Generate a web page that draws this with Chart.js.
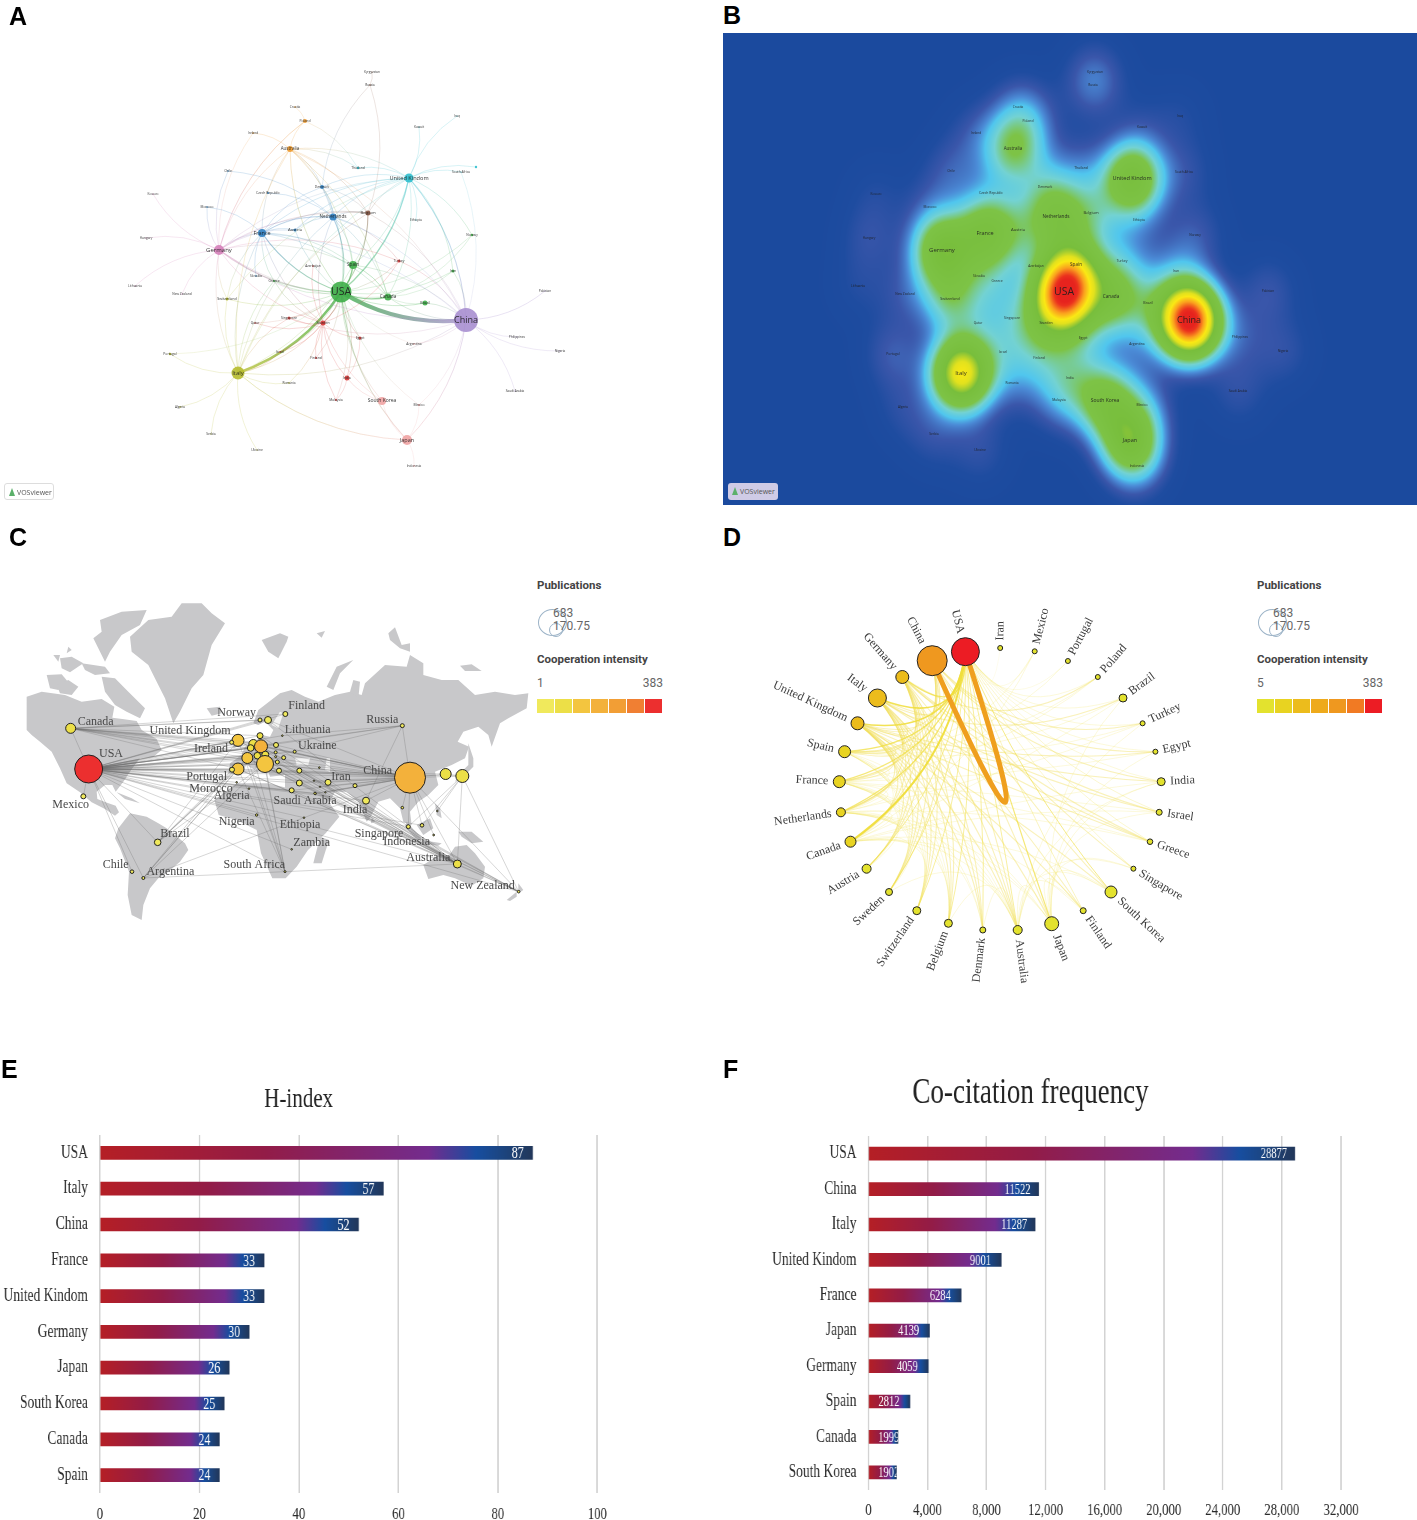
<!DOCTYPE html>
<html>
<head>
<meta charset="utf-8">
<title>Country analysis</title>
<script src="https://cdn.jsdelivr.net/npm/chart.js@4"></script>
<style>
    html, body { margin: 0; background: #fff; }
    #page { position: relative; width: 1417px; height: 1520px; overflow: hidden; }
    #page canvas { position: absolute; }
    .letter { position: absolute; font: bold 25px "Liberation Sans", sans-serif; color: #000; line-height: 25px; }
    .logo { position: absolute; width: 50px; height: 17px; border-radius: 3px; font: 7px "Open Sans", sans-serif; color: #555; line-height: 17px; padding-left: 2px; box-sizing: border-box; }
    .logo i { display: inline-block; width: 0; height: 0; border-left: 3px solid transparent; border-right: 3px solid transparent; border-bottom: 8px solid #5bb06a; margin: 0 2px 0 2px; vertical-align: -1px; }
    .legend { position: absolute; width: 140px; height: 145px; font-family: Roboto, sans-serif; color: #555; }
    .legend b { position: absolute; left: 0; font-size: 11.5px; font-weight: 700; color: #444; white-space: nowrap; }
    .legend span { position: absolute; font-size: 12px; line-height: 14px; color: #666; white-space: nowrap; }
    .legend u { position: absolute; border: 1.5px solid #9db4c8; border-radius: 50%; box-sizing: border-box; }
    .legend em { position: absolute; top: 129px; height: 14px; width: 17px; }
</style>
</head>
<body>
<div id="page">
    <canvas id="panel-a" width="710" height="480" style="left:0;top:30px;filter:blur(.35px)"></canvas>
    <canvas id="panel-b" width="694" height="472" style="left:723px;top:33px;filter:blur(.3px)"></canvas>
    <canvas id="panel-c" width="535" height="520" style="left:0;top:520px;filter:blur(.3px)"></canvas>
    <canvas id="panel-d" width="490" height="400" style="left:740px;top:590px;filter:blur(.2px)"></canvas>
    <canvas id="panel-e" width="933" height="460" style="left:0;top:1060px;transform-origin:0 0;transform:scaleX(.75);filter:blur(.3px)"></canvas>
    <canvas id="panel-f" width="930" height="460" style="left:720px;top:1060px;transform-origin:0 0;transform:scaleX(.75);filter:blur(.3px)"></canvas>
    <div class="letter" style="left:9px;top:4px">A</div>
    <div class="letter" style="left:723px;top:3px">B</div>
    <div class="letter" style="left:9px;top:525px">C</div>
    <div class="letter" style="left:723px;top:525px">D</div>
    <div class="letter" style="left:1px;top:1057px">E</div>
    <div class="letter" style="left:723px;top:1057px">F</div>
    <div class="logo" style="left:4px;top:483px;background:#fff;border:1px solid #ddd"><i></i>VOSviewer</div>
    <div class="logo" style="left:728px;top:483px;background:#cfcbe6"><i></i>VOSviewer</div>
    <div class="legend" id="legend-c" style="left:537px;top:570px"></div>
    <div class="legend" id="legend-d" style="left:1257px;top:570px"></div>
</div>
<script>
// panels A and B: VOSviewer network, same layout in both
const netCountries = ['USA','China','Italy','Germany','France','Netherlands','United Kindom','Spain','Canada','Brazil','Japan','South Korea','Australia','Belgium','Sweden','Singapore','India','Turkey','Egypt','Denmark','Austria','Czech Republic','Poland','Croatia','Ireland','Chile','Kosovo','Morocco','Hungary','Lithuania','New Zealand','Switzerland','Slovakia','Greece','Azerbaijan','Portugal','Qatar','Israel','Finland','Romania','Algeria','Serbia','Ukraine','Malaysia','Mexico','Indonesia','Argentina','Saudi Arabia','Nigeria','Philippines','Pakistan','Iran','Norway','Ethiopia','South Africa','Thailand','Kuwait','Iraq','Russia','Kyrgyzstan',''];
const netX = [341,466,238,219,262,333,409,353,388,425,407,382,290,368,323,289,347,399,360,322,295,268,305,295,253,228,153,207,146,135,182,227,256,274,313,170,255,280,316,289,180,211,257,336,419,414,414,515,560,517,545,453,472,416,461,358,419,457,370,372,476];
const netY = [292,320,373,250,233,217,178,265,297,303,440,401,149,213,323,318,378,261,338,187,230,193,121,107,133,171,194,207,238,286,294,299,276,281,266,354,323,352,358,383,407,434,450,400,405,466,344,391,351,337,291,271,235,220,172,168,127,116,85,72,167];
const netRadius = [10.5,12,6.5,5,4,3.5,4.5,4,3.5,2.5,5,4,3,2.5,2.5,1.5,2.5,1.5,1.5,2,1.5,1,2,.8,.8,.8,.6,.8,.6,.6,.6,1.5,.8,1,.8,1.2,.8,.8,1,.8,.8,.6,.6,1,1,.8,.8,.6,.6,.6,.6,1.5,1.2,.6,.6,1.2,.6,.6,.8,.6,1.2];
const netFont = [10.5,9,6,6,5.5,4.7,5.6,4.7,4.7,3.6,5.5,5,4.5,4,3.6,3.4,3.4,3.4,3.4,3.4,4.3,3.4,3.4,3.2,3.2,3.2,3.2,3.2,3.2,3.2,3.2,3.6,3.2,3.4,3.2,3.4,3.2,3.2,3.4,3.2,3.2,3.2,3.2,3.4,3.4,3.2,3.4,3.2,3.2,3.2,3.2,3.4,3.2,3.2,3.2,3.4,3.2,3.2,3.2,3.2,3.2];
const netGroup = ['us','cn','it','de','fr','fr','uk','us','us','us','jp','jp','au','be','se','se','se','se','se','fr','fr','fr','au','au','au','fr','de','fr','de','de','de','it','fr','us','se','it','se','se','se','it','it','it','it','se','jp','jp','jp','cn','cn','cn','cn','us','us','uk','uk','uk','uk','uk','be','be','uk'];
const netDensity = [.85,1.02,.66,.42,.33,.26,.42,.25,.27,.12,.40,.32,.24,.14,.18,.08,.12,.08,.09,.1,.12,.05,.08,.05,.05,.06,.03,.04,.05,.03,.05,.2,.05,.07,.04,.07,.05,.07,.08,.05,.04,.05,.05,.07,.08,.06,.05,.05,.05,.05,.06,.07,.06,.04,.05,.06,.03,.03,.07,.04,0];
const groupColors = {us:'#3fae49', cn:'#a98fd0', it:'#b7bd2d', de:'#d57fb9', fr:'#2f7fc1', uk:'#2fbfce', au:'#ee9a2e', se:'#d93a3a', jp:'#efa3a3', be:'#8c5a46'};

const usaPartners = ['China','Italy','Spain','Canada','United Kindom','France','Germany','Netherlands','Belgium','Sweden','Japan','South Korea','Brazil','Australia','Switzerland','Greece','Turkey','Egypt','India','Iran','Israel','Singapore','Denmark','Austria','Finland','Mexico','Norway','Portugal','Argentina','Malaysia','Qatar'];
const usaWeights = [5,3,1.8,1.8,1.6,1.5,1.2,1.2,1.2,1.2,1.2,.8,.8,.8,.7,.6,.6,.7,.6,.6,.6,.6,.6,.6,.5,.5,.5,.4,.4,.4,.4];
const chinaPartners = ['United Kindom','Pakistan','Philippines','Nigeria','Saudi Arabia','Japan','Australia','Canada','Italy','Germany','Iran','Turkey','Brazil','Spain','Argentina','Netherlands','Mexico','Singapore','France','Belgium','South Africa'];
const chinaWeights = [1.3,.8,.6,.6,.6,1,.6,.7,.7,.7,.6,.6,.7,.6,.6,.5,.5,.5,.5,.5,.4];
const italyPartners = ['Spain','France','Germany','United Kindom','Netherlands','Belgium','Switzerland','Portugal','Algeria','Serbia','Ukraine','Israel','Romania','Greece','Japan','Sweden','Singapore'];
const ukPartners = ['Kuwait','Iraq','South Africa','','Ethiopia','Netherlands','Belgium','France','Germany','Spain','Denmark','Thailand','Norway','Iran','Austria','Canada','Switzerland'];
const francePartners = ['Netherlands','Austria','Germany','Belgium','Denmark','Spain','Canada','Greece','Slovakia','Morocco','Switzerland','Sweden'];
const germanyPartners = ['Hungary','Kosovo','Lithuania','New Zealand','Morocco','Netherlands','Austria','Switzerland','Spain','Poland','Chile','Sweden','Turkey','Belgium','Canada'];
const australiaPartners = ['Poland','Ireland','Denmark','Netherlands','Belgium','Thailand','Germany','Italy','Spain','France','United Kindom','Canada'];
const netherlandsPartners = ['Denmark','Belgium','Spain','Canada','Czech Republic','Austria','Sweden','Turkey','Chile'];
const swedenPartners = ['Singapore','India','Egypt','Malaysia','Finland','Qatar','Israel','Greece','Turkey','Romania','Azerbaijan','South Korea','Spain'];
const otherPairsFrom = ['Poland','India','India','India','Russia','Russia','Russia','Japan','Japan','Japan','Japan','Canada','Canada','Canada','Canada','Spain','Spain','Poland','Poland','Ireland','Denmark'];
const otherPairsTo = ['Croatia','Malaysia','South Korea','Egypt','Kyrgyzstan','Denmark','Belgium','Indonesia','South Korea','Mexico','Italy','Iran','Brazil','Norway','Spain','Belgium','Canada','Thailand','Germany','Germany','Belgium'];

// panel C: world map
const mapCountries = ['USA','Canada','Mexico','Brazil','Chile','Argentina','Norway','Sweden','Finland','Poland','United Kingdom','Ireland','Belgium','Netherlands','Germany','Denmark','France','Switzerland','Austria','Italy','Spain','Portugal','Czech Republic','Hungary','Slovakia','Romania','Serbia','Greece','Turkey','Israel','Iran','Ukraine','Lithuania','Bulgaria','Morocco','Algeria','Saudi Arabia','Iraq','Kuwait','Qatar','Egypt','China','South Korea','Japan','Russia','India','Pakistan','Thailand','Singapore','Indonesia','Philippines','Malaysia','Australia','New Zealand','Ethiopia','Zambia','South Africa','Nigeria'];
const mapU = [191,137,175,398,321,355,705,729,781,753,639,620,685,677,708,705,667,697,721,720,639,621,752,757,752,776,762,823,823,800,909,809,772,883,635,672,871,867,885,901,870,1155,1262,1312,1132,1023,990,1132,1150,1191,1237,1226,1297,1481,837,800,780,695];
const mapV = [522,400,604,742,830,849,375,375,357,450,436,442,447,459,454,422,489,482,479,507,522,524,472,501,485,488,527,527,564,586,562,470,422,518,562,581,596,557,575,592,595,548,537,543,392,617,572,638,695,691,648,720,807,890,668,763,830,660];
const mapRadius = [14,5,2.5,3.3,1.8,1.5,2,3.5,2.5,2.5,6,2,4.5,3.3,6.5,3,5.5,3.3,3.5,8.5,6,2.5,1.5,2,1,2,2.5,2.5,3,2.5,3,1.5,.8,.8,.8,.8,1,.7,.7,.7,1.2,15.5,5.5,6.5,2,3.5,2,1.3,2,1.8,.8,.9,4,1.3,.8,.8,1,1.2];
const mapIntensity = [383,60,20,40,10,10,15,40,20,50,130,15,90,90,190,60,130,90,70,140,130,30,15,20,10,20,20,30,30,30,20,10,5,5,5,5,10,5,5,5,15,215,60,60,15,30,15,10,30,15,5,5,60,10,5,5,5,5];
const mapLabelNames = ['Canada','USA','Mexico','United Kingdom','Ireland','Norway','Portugal','Morocco','Algeria','Brazil','Nigeria','Chile','Argentina','South Africa','Finland','Lithuania','Ukraine','Russia','China','Iran','Saudi Arabia','India','Ethiopia','Zambia','Singapore','Indonesia','Australia','New Zealand'];
const mapLabelU = [212,258,137,495,558,635,545,558,620,450,635,272,436,688,845,848,877,1072,1058,948,840,990,825,860,1062,1145,1210,1373];
const mapLabelV = [380,477,630,409,463,354,545,583,603,717,682,810,830,811,334,405,452,374,529,545,617,645,690,745,716,741,790,874];
const usaMapLinks = ['Canada','Mexico','Brazil','Chile','Argentina','Norway','Sweden','Finland','United Kingdom','Ireland','Netherlands','Belgium','Germany','Denmark','France','Switzerland','Austria','Italy','Spain','Portugal','Czech Republic','Hungary','Poland','Romania','Greece','Turkey','Israel','Iran','Ukraine','Lithuania','Morocco','Algeria','Saudi Arabia','India','China','Japan','South Korea','Russia','Singapore','Australia','New Zealand','Nigeria','South Africa','Ethiopia','Zambia','Indonesia','Egypt','Germany','United Kingdom','Italy','Spain','France','Netherlands'];
const chinaMapLinks = ['United Kingdom','Netherlands','Belgium','Germany','France','Italy','Spain','Switzerland','Sweden','Poland','Greece','Turkey','Iran','Pakistan','India','Israel','Saudi Arabia','Egypt','Russia','South Korea','Japan','Thailand','Singapore','Indonesia','Malaysia','Australia','New Zealand','Germany','Italy','Ethiopia','Iraq','Kuwait','Qatar'];
const canadaMapLinks = ['United Kingdom','Germany','France','Italy','Netherlands','Norway','Sweden','Spain','Belgium','Switzerland','Denmark','Finland','Poland','Austria'];
const australiaMapLinks = ['United Kingdom','Germany','France','Italy','Netherlands','Spain','Belgium','Denmark','Sweden','Switzerland','Greece','Turkey','Israel','Japan','Singapore','New Zealand','India','Iran','Saudi Arabia','South Africa'];
const newZealandMapLinks = ['United Kingdom','Italy','Germany','Spain','Greece','France','Japan'];
const brazilMapLinks = ['Italy','Spain','Portugal','United Kingdom','France','Germany'];
const argentinaMapLinks = ['Spain','Italy','South Africa','Portugal','Ethiopia','France'];
const southAfricaMapLinks = ['United Kingdom','Germany','Italy','Netherlands','France','Spain'];
const japanMapLinks = ['Indonesia','Philippines','Singapore','South Korea'];
const russiaMapLinks = ['Lithuania','Germany','Ukraine','India'];
// landmasses, in the same map units as the nodes
const northAmerica = [[5,305],[50,290],[120,300],[170,320],[230,312],[268,335],[262,368],[292,372],[335,378],[350,405],[395,432],[410,465],[385,485],[345,490],[322,520],[295,560],[272,590],[262,570],[240,570],[215,590],[217,612],[242,622],[272,632],[282,652],[270,662],[240,642],[200,622],[165,592],[125,565],[105,520],[80,470],[45,440],[20,420],[5,405]];
const southAmerica = [[280,700],[315,655],[365,665],[400,685],[425,700],[480,745],[490,765],[465,800],[430,830],[400,850],[375,880],[355,930],[350,975],[320,960],[308,900],[312,830],[285,760],[270,730]];
const greenland = [[315,125],[370,75],[440,65],[470,25],[530,25],[560,55],[600,85],[560,150],[535,240],[500,280],[465,350],[445,385],[420,310],[395,260],[370,210],[320,170]];
const africa = [[568,615],[635,565],[728,565],[835,590],[889,590],[943,665],[902,715],[849,765],[815,815],[782,850],[742,850],[708,775],[695,705],[635,675],[581,660]];
const eurasia = [[685,385],[700,345],[765,295],[800,285],[840,305],[880,320],[930,300],[975,290],[1010,300],[1020,265],[1080,210],[1145,215],[1155,180],[1195,205],[1195,240],[1250,255],[1300,255],[1350,300],[1410,290],[1470,300],[1510,295],[1505,340],[1450,370],[1425,385],[1400,455],[1390,420],[1360,395],[1315,410],[1298,440],[1332,455],[1320,490],[1280,510],[1230,530],[1240,570],[1210,600],[1180,620],[1155,650],[1160,690],[1135,680],[1125,640],[1095,610],[1060,620],[1035,670],[1025,680],[1000,620],[965,590],[930,590],[910,630],[870,665],[845,665],[810,620],[780,580],[780,540],[735,545],[730,530],[705,505],[690,525],[665,510],[640,540],[610,535],[615,505],[650,480],[660,455],[695,440],[710,420],[735,425],[745,405],[720,380],[700,390]];
const australiaLand = [[1195,810],[1240,780],[1270,785],[1290,755],[1325,750],[1350,775],[1380,815],[1375,850],[1340,872],[1290,850],[1255,840],[1210,852]];
const smallIslands = [
    [[65,240],[110,238],[130,262],[100,285],[75,280]], [[95,270],[130,255],[160,275],[140,300],[105,295]],
    [[230,245],[270,250],[310,290],[360,340],[345,370],[305,350],[270,330],[240,290]], [[225,75],[290,50],[365,45],[345,90],[290,120],[255,170],[240,200],[205,130],[230,110]],
    [[105,190],[140,185],[175,205],[135,232],[110,220]], [[170,205],[240,215],[255,235],[210,240],[180,225]], [[130,155],[140,165],[125,175]], [[85,180],[105,180],[100,200]],
    [[545,340],[585,335],[590,355],[560,362]], [[885,725],[912,735],[890,805],[865,805]], [[625,425],[640,415],[650,450],[625,460]],
    [[975,290],[985,255],[1005,260],[1000,310]], [[905,275],[935,215],[985,195],[975,205],[945,235],[925,285]], [[1090,115],[1110,97],[1130,150],[1155,145],[1155,170],[1125,160],[1095,135]],
    [[1305,212],[1340,208],[1370,228],[1320,228]], [[710,135],[765,115],[790,125],[785,140],[760,190],[730,170]], [[875,115],[900,108],[890,128]],
    [[1330,445],[1345,490],[1345,515],[1310,550],[1290,560],[1300,540],[1330,510]], [[1145,680],[1190,730],[1175,735],[1140,695]], [[1175,690],[1215,670],[1225,700],[1195,720]],
    [[1230,625],[1245,640],[1250,670],[1235,660]], [[1190,735],[1250,745],[1240,752],[1195,745]], [[1300,710],[1340,710],[1375,740],[1340,745],[1310,725]], [[1040,665],[1050,680],[1038,685]],
    [[1480,865],[1495,885],[1480,895]], [[1445,915],[1475,890],[1475,905],[1455,918]], [[275,592],[320,610],[345,625],[300,612]]
];
const waters = [[[810,490],[855,490],[850,510],[815,510]], [[905,490],[915,490],[915,530],[900,525]], [[740,390],[765,350],[775,355],[760,400]]];

// panel D: circular network
const ringCountries = ['Iran','USA','China','Germany','Italy','United Kingdom','Spain','France','Netherlands','Canada','Austria','Sweden','Switzerland','Belgium','Denmark','Australia','Japan','Finland','South Korea','Singapore','Greece','Israel','India','Egypt','Turkey','Brazil','Poland','Portugal','Mexico'];
const ringX = [1000.2,965.4,932.2,902.3,877.4,857.5,844.6,839.3,840.9,850.5,866.6,889,916.8,948.4,982.8,1017.7,1051.7,1083.2,1111,1133.4,1150,1159.2,1161.2,1155.4,1142.6,1123,1097.8,1067.9,1034.7];
const ringY = [648,651.7,660.7,677,698,723.3,751.7,781.7,812.3,841.7,868.7,892,910.7,923.3,930,930,923.7,910.7,892,868.7,841.7,812.3,781.7,751.7,723.3,698,677,661,651.3];
const ringRadius = [2.5,14,15,6.5,9,6.5,6,6,4.5,5.5,4.5,3.5,4,4,3,4.5,7,3,6,2.5,2.8,3,4,2.5,2.5,4,2.5,2.5,2.5];
const ringIntensity = [10,383,225,120,125,115,100,85,70,100,50,30,40,30,20,30,20,15,20,10,20,30,15,20,30,15,10,10,10];
const usaRing = ['Canada','Italy','United Kingdom','Germany','Spain','France','Netherlands','Japan','South Korea','Austria','Sweden','Switzerland','Belgium','Denmark','Australia','Finland','Singapore','Greece','Israel','India','Egypt','Turkey','Brazil','Poland','Portugal','Mexico','Iran'];
const usaRingWeights = [2,1.6,1.6,1.3,1.3,1.2,1.2,1.2,1,.9,.9,.9,.9,.9,.9,.7,.6,.6,.6,.5,.5,.5,.5,.5,.4,.4,.3];
const chinaRing = ['Germany','Italy','United Kingdom','Spain','France','Netherlands','Canada','Japan','Australia','South Korea','Singapore','India','Sweden','Turkey','Egypt'];
const germanyRing = ['Italy','United Kingdom','France','Spain','Netherlands','Austria','Switzerland','Belgium','Sweden','Denmark','Poland','Canada','Australia','Finland','Greece','Israel'];
const italyRing = ['United Kingdom','France','Spain','Netherlands','Canada','Switzerland','Belgium','Israel','Greece','Austria','Sweden','Japan','Australia','Denmark','Brazil'];
const ukRing = ['France','Spain','Netherlands','Canada','Sweden','Australia','Belgium','Denmark','Switzerland','India','Finland','Austria','Egypt','Greece','South Korea'];
const spainRing = ['France','Netherlands','Belgium','Sweden','Austria','Portugal','Mexico','Brazil','Canada','Switzerland','Australia','Poland','Turkey'];
const franceRing = ['Netherlands','Belgium','Canada','Austria','Switzerland','Sweden','Greece','Egypt','Denmark','Australia','Japan','Israel','Poland'];
const netherlandsRing = ['Belgium','Denmark','Sweden','Canada','Australia','Switzerland','Finland','Austria','Japan','Greece','Turkey'];
const canadaRing = ['Australia','Japan','Brazil','Israel','India','Sweden','Switzerland','Belgium','South Korea','Mexico'];
const australiaRing = ['Japan','Sweden','Denmark','Finland','Singapore','South Korea','Belgium','India','Turkey'];
const japanRing = ['South Korea','Finland','Singapore','India','Israel','Brazil','Egypt'];

// panel E
const hIndexCountries = ['USA','Italy','China','France','United Kindom','Germany','Japan','South Korea','Canada','Spain'];
const hIndexValues = [87,57,52,33,33,30,26,25,24,24];
const hIndexTicks = [0,20,40,60,80,100];

// panel F
const citationCountries = ['USA','China','Italy','United Kindom','France','Japan','Germany','Spain','Canada','South Korea'];
const citationValues = [28877,11522,11287,9001,6284,4139,4059,2812,1999,1902];
const citationTicks = [0,4000,8000,12000,16000,20000,24000,28000,32000];

const paletteC = ['#f0e95c','#ecdf47','#f3c53f','#f3b13b','#f29e35','#f07f33','#ec2f2f'];
const paletteD = ['#e3e22e','#e8d321','#ecbc1c','#eeaa1c','#ef981f','#f17a23','#ec1c24'];
const heatStops = [[0,27,74,158],[.03,30,76,160],[.07,58,86,170],[.12,75,140,215],[.16,80,198,238],[.22,115,210,210],[.30,125,195,70],[.50,120,190,60],[.62,225,225,30],[.70,250,232,20],[.82,250,160,30],[.95,235,50,30],[1,230,35,30]];
const serif = '"Liberation Serif", serif';

function hiddenAxes(xMin, xMax, yMin, yMax) {
    return {
        x: {type: 'linear', display: false, min: xMin, max: xMax},
        y: {type: 'linear', display: false, min: yMin, max: yMax, reverse: true}
    };
}

function baseOptions(scales) {
    return {
        responsive: false,
        animation: false,
        layout: {autoPadding: false, padding: 0},
        plugins: {legend: {display: false}, tooltip: {enabled: false}, title: {display: false}},
        scales: scales
    };
}

function hexAlpha(hex, a) {
    const n = parseInt(hex.slice(1), 16);
    return 'rgba(' + (n >> 16) + ',' + ((n >> 8) & 255) + ',' + (n & 255) + ',' + a + ')';
}

function intensityColor(palette, v, low) {
    return palette[Math.min(6, Math.floor((v - low) / (383 - low) * 7))];
}

function collectNetLinks() {
    const links = [];
    const addHub = (hub, names, weights) => names.forEach((n, i) => links.push([hub, n, weights ? weights[i] : .6]));
    addHub('USA', usaPartners, usaWeights);
    addHub('China', chinaPartners, chinaWeights);
    addHub('Italy', italyPartners);
    addHub('United Kindom', ukPartners);
    addHub('France', francePartners);
    addHub('Germany', germanyPartners);
    addHub('Australia', australiaPartners);
    addHub('Netherlands', netherlandsPartners);
    addHub('Sweden', swedenPartners);
    otherPairsFrom.forEach((n, i) => links.push([n, otherPairsTo[i], .5]));
    return links;
}

// network links of panel A, bowed away from the middle of the network
const networkLinks = {
    id: 'networkLinks',
    beforeDatasetsDraw(chart) {
        const {ctx, scales: {x, y}} = chart;
        const midX = x.getPixelForValue(335), midY = y.getPixelForValue(275);
        ctx.save();
        collectNetLinks().forEach(([from, to, w]) => {
            const a = netCountries.indexOf(from), b = netCountries.indexOf(to);
            const ax = x.getPixelForValue(netX[a]), ay = y.getPixelForValue(netY[a]);
            const bx = x.getPixelForValue(netX[b]), by = y.getPixelForValue(netY[b]);
            const cx = (ax + bx) / 2, cy = (ay + by) / 2;
            let px = -(by - ay) * .17, py = (bx - ax) * .17;
            if (px * (cx - midX) + py * (cy - midY) < 0) { px = -px; py = -py; }
            const alpha = Math.min(.8, .16 + w * .2);
            const g = ctx.createLinearGradient(ax, ay, bx, by);
            g.addColorStop(0, hexAlpha(groupColors[netGroup[a]], alpha));
            g.addColorStop(1, hexAlpha(groupColors[netGroup[b]], alpha));
            ctx.strokeStyle = g;
            ctx.lineWidth = w > 2 ? w * .8 : .35 + w * .55;
            ctx.beginPath();
            ctx.moveTo(ax, ay);
            ctx.quadraticCurveTo(cx + px, cy + py, bx, by);
            ctx.stroke();
        });
        ctx.restore();
    }
};

// density surface of panel B, one gaussian per country
const densityLayer = {
    id: 'densityLayer',
    beforeDatasetsDraw(chart) {
        const {ctx, chartArea: area, scales: {x, y}} = chart;
        const w = Math.round(area.right - area.left), h = Math.round(area.bottom - area.top);
        const off = document.createElement('canvas');
        off.width = w;
        off.height = h;
        const octx = off.getContext('2d');
        const img = octx.createImageData(w, h);
        const px = netX.map(v => x.getPixelForValue(v) - area.left);
        const py = netY.map(v => y.getPixelForValue(v) - area.top);
        const sx = 2 * 20.5 * 20.5, sy = 2 * 25 * 25;
        for (let j = 0; j < h; j++) {
            for (let i = 0; i < w; i++) {
                let v = 0;
                for (let k = 0; k < px.length; k++) {
                    if (!netDensity[k]) continue;
                    const dx = i - px[k], dy = j - py[k];
                    v += netDensity[k] * Math.exp(-(dx * dx / sx + dy * dy / sy));
                }
                v = Math.min(v, 1);
                let s = 0;
                while (s < heatStops.length - 2 && v > heatStops[s + 1][0]) s++;
                const l = heatStops[s], r = heatStops[s + 1];
                const t = (v - l[0]) / (r[0] - l[0]);
                const o = (j * w + i) * 4;
                img.data[o] = l[1] + (r[1] - l[1]) * t;
                img.data[o + 1] = l[2] + (r[2] - l[2]) * t;
                img.data[o + 2] = l[3] + (r[3] - l[3]) * t;
                img.data[o + 3] = 255;
            }
        }
        octx.putImageData(img, 0, 0);
        ctx.drawImage(off, area.left, area.top);
    }
};

const netLabels = {
    id: 'netLabels',
    afterDatasetsDraw(chart) {
        const {ctx, scales: {x, y}} = chart;
        ctx.save();
        ctx.textAlign = 'center';
        ctx.textBaseline = 'middle';
        ctx.fillStyle = 'rgba(30,30,30,.9)';
        netCountries.forEach((name, i) => {
            ctx.font = netFont[i] + 'px "Open Sans", sans-serif';
            ctx.fillText(name, x.getPixelForValue(netX[i]), y.getPixelForValue(netY[i]));
        });
        ctx.restore();
    }
};

function netPoints(rFn) {
    return netCountries.map((n, i) => ({x: netX[i], y: netY[i], r: rFn(i)}));
}

new Chart(document.getElementById('panel-a'), {
    type: 'bubble',
    data: {datasets: [{
        data: netPoints(i => netRadius[i]),
        backgroundColor: netGroup.map(g => hexAlpha(groupColors[g], .9)),
        borderWidth: 0
    }]},
    options: baseOptions(hiddenAxes(0, 710, 30, 510)),
    plugins: [networkLinks, netLabels]
});

new Chart(document.getElementById('panel-b'), {
    type: 'bubble',
    data: {datasets: [{data: netPoints(() => 0), borderWidth: 0, backgroundColor: 'transparent'}]},
    options: baseOptions(hiddenAxes(0, 694, 33, 505)),
    plugins: [densityLayer, netLabels]
});

// world map: land shapes and straight collaboration links under the bubbles
const worldLayer = {
    id: 'worldLayer',
    beforeDatasetsDraw(chart) {
        const {ctx, scales: {x, y}} = chart;
        const fillShape = (pts, color) => {
            ctx.fillStyle = color;
            ctx.beginPath();
            pts.forEach(([u, v], i) => {
                const px = x.getPixelForValue(u), py = y.getPixelForValue(v);
                if (i) ctx.lineTo(px, py); else ctx.moveTo(px, py);
            });
            ctx.closePath();
            ctx.fill();
        };
        ctx.save();
        [northAmerica, southAmerica, greenland, africa, eurasia, australiaLand].concat(smallIslands).forEach(s => fillShape(s, '#c8c8ca'));
        waters.forEach(s => fillShape(s, '#f4f4f4'));
        ctx.strokeStyle = 'rgba(105,105,105,.27)';
        ctx.lineWidth = 1;
        const hubs = [['USA', usaMapLinks], ['China', chinaMapLinks], ['Canada', canadaMapLinks], ['Australia', australiaMapLinks], ['New Zealand', newZealandMapLinks], ['Brazil', brazilMapLinks], ['Argentina', argentinaMapLinks], ['South Africa', southAfricaMapLinks], ['Japan', japanMapLinks], ['Russia', russiaMapLinks]];
        hubs.forEach(([hub, names]) => {
            const a = mapCountries.indexOf(hub);
            names.forEach(n => {
                const b = mapCountries.indexOf(n);
                ctx.beginPath();
                ctx.moveTo(x.getPixelForValue(mapU[a]), y.getPixelForValue(mapV[a]));
                ctx.lineTo(x.getPixelForValue(mapU[b]), y.getPixelForValue(mapV[b]));
                ctx.stroke();
            });
        });
        ctx.restore();
    },
    afterDatasetsDraw(chart) {
        const {ctx, scales: {x, y}} = chart;
        ctx.save();
        ctx.font = '12px ' + serif;
        ctx.fillStyle = '#484848';
        ctx.textAlign = 'center';
        ctx.textBaseline = 'middle';
        mapLabelNames.forEach((name, i) => ctx.fillText(name, x.getPixelForValue(mapLabelU[i]), y.getPixelForValue(mapLabelV[i])));
        ctx.restore();
    }
};

new Chart(document.getElementById('panel-c'), {
    type: 'bubble',
    data: {datasets: [{
        data: mapCountries.map((n, i) => ({x: mapU[i], y: mapV[i], r: mapRadius[i]})),
        backgroundColor: mapIntensity.map(v => intensityColor(paletteC, v, 1)),
        borderColor: '#222',
        borderWidth: 1
    }]},
    options: baseOptions(hiddenAxes(-75, 1530, -225, 1335)),
    plugins: [worldLayer]
});

// ring network: links bent towards the ring centre, radial labels
const ringLayer = {
    id: 'ringLayer',
    beforeDatasetsDraw(chart) {
        const {ctx, scales: {x, y}} = chart;
        const cx = x.getPixelForValue(1000), cy = y.getPixelForValue(789);
        const curve = (from, to, bend) => {
            const a = ringCountries.indexOf(from), b = ringCountries.indexOf(to);
            const ax = x.getPixelForValue(ringX[a]), ay = y.getPixelForValue(ringY[a]);
            const bx = x.getPixelForValue(ringX[b]), by = y.getPixelForValue(ringY[b]);
            ctx.beginPath();
            ctx.moveTo(ax, ay);
            ctx.quadraticCurveTo((ax + bx) / 2 * (1 - bend) + cx * bend, (ay + by) / 2 * (1 - bend) + cy * bend, bx, by);
            ctx.stroke();
        };
        ctx.save();
        ctx.lineWidth = .8;
        const faint = [['China', chinaRing], ['Germany', germanyRing], ['Italy', italyRing], ['United Kingdom', ukRing], ['Spain', spainRing], ['France', franceRing], ['Netherlands', netherlandsRing], ['Canada', canadaRing], ['Australia', australiaRing], ['Japan', japanRing]];
        faint.forEach(([hub, names], h) => {
            ctx.strokeStyle = h < 4 ? 'rgba(240,222,90,.42)' : 'rgba(242,228,110,.3)';
            ctx.lineWidth = h < 4 ? 1.1 : .8;
            names.forEach(n => curve(hub, n, .6));
        });
        usaRing.forEach((n, i) => {
            ctx.strokeStyle = 'rgba(240,222,60,' + Math.min(.95, .15 + usaRingWeights[i] * .45) + ')';
            ctx.lineWidth = usaRingWeights[i];
            curve('USA', n, .5);
        });
        ctx.strokeStyle = '#ef9f1e';
        ctx.lineWidth = 5;
        curve('China', 'USA', 2.2);
        ctx.restore();
    },
    afterDatasetsDraw(chart) {
        const {ctx, scales: {x, y}} = chart;
        const cx = x.getPixelForValue(1000), cy = y.getPixelForValue(789);
        ctx.save();
        ctx.font = '12px ' + serif;
        ctx.fillStyle = '#3c3c3c';
        ctx.textBaseline = 'middle';
        ringCountries.forEach((name, i) => {
            const px = x.getPixelForValue(ringX[i]), py = y.getPixelForValue(ringY[i]);
            const angle = Math.atan2(py - cy, px - cx);
            const left = px < cx;
            const gap = ringRadius[i] + 5;
            ctx.save();
            ctx.translate(px + Math.cos(angle) * gap, py + Math.sin(angle) * gap);
            ctx.rotate(left ? angle + Math.PI : angle);
            ctx.textAlign = left ? 'right' : 'left';
            ctx.fillText(name, 0, 0);
            ctx.restore();
        });
        ctx.restore();
    }
};

new Chart(document.getElementById('panel-d'), {
    type: 'bubble',
    data: {datasets: [{
        data: ringCountries.map((n, i) => ({x: ringX[i], y: ringY[i], r: ringRadius[i]})),
        backgroundColor: ringIntensity.map(v => intensityColor(paletteD, v, 5)),
        borderColor: '#222',
        borderWidth: 1
    }]},
    options: baseOptions(hiddenAxes(740, 1230, 590, 990)),
    plugins: [ringLayer]
});

function barGradient(context) {
    const chart = context.chart;
    if (!chart.chartArea) return '#8f1c4f';
    const x = chart.scales.x;
    const g = chart.ctx.createLinearGradient(x.getPixelForValue(0), 0, x.getPixelForValue(context.raw), 0);
    g.addColorStop(0, '#b51f25');
    g.addColorStop(.38, '#931c47');
    g.addColorStop(.76, '#732c8e');
    g.addColorStop(.87, '#174ea0');
    g.addColorStop(.93, '#1c4580');
    g.addColorStop(1, '#22375a');
    return g;
}

// white value labels at the end of each bar, cut off at the bar end as in Excel
function valueLabels(fontSize, endOffset, minOffset) {
    return {
        id: 'valueLabels',
        afterDatasetsDraw(chart) {
            const {ctx} = chart;
            const meta = chart.getDatasetMeta(0);
            ctx.save();
            ctx.font = fontSize + 'px ' + serif;
            ctx.fillStyle = '#fff';
            ctx.textAlign = 'center';
            ctx.textBaseline = 'middle';
            meta.data.forEach((bar, i) => {
                const base = chart.scales.x.getPixelForValue(0);
                ctx.save();
                ctx.beginPath();
                ctx.rect(base, bar.y - 8, bar.x - base, 16);
                ctx.clip();
                ctx.fillText(chart.data.datasets[0].data[i], Math.max(bar.x - endOffset, base + minOffset), bar.y + 1);
                ctx.restore();
            });
            ctx.restore();
        }
    };
}

function barChart(id, categories, values, ticks, conf) {
    new Chart(document.getElementById(id), {
        type: 'bar',
        data: {
            labels: categories,
            datasets: [{data: values, backgroundColor: barGradient, barThickness: 13, borderSkipped: false}]
        },
        options: {
            indexAxis: 'y',
            responsive: false,
            animation: false,
            layout: {padding: {right: conf.right}},
            plugins: {
                legend: {display: false},
                tooltip: {enabled: false},
                title: {
                    display: true,
                    text: conf.title,
                    color: '#222',
                    font: {family: serif, size: conf.titleSize, weight: 'normal', lineHeight: 1.2},
                    padding: conf.titlePadding
                }
            },
            scales: {
                x: {
                    type: 'linear',
                    min: ticks[0],
                    max: ticks[ticks.length - 1],
                    afterBuildTicks(scale) { scale.ticks = ticks.map(v => ({value: v})); },
                    afterFit(scale) { scale.height = conf.bottom; },
                    border: {display: false},
                    grid: {color: '#d3d3d3', lineWidth: 2, drawTicks: false},
                    ticks: {color: '#2a2a2a', padding: conf.tickPad, maxRotation: 0, font: {family: serif, size: 17}}
                },
                y: {
                    afterFit(scale) { scale.width = conf.left; },
                    border: {display: false},
                    grid: {display: false, drawTicks: false},
                    ticks: {color: '#2a2a2a', padding: 16, font: {family: serif, size: 18}}
                }
            }
        },
        plugins: [valueLabels(conf.valueSize, conf.endOffset, conf.minOffset)]
    });
}

barChart('panel-e', hIndexCountries, hIndexValues, hIndexTicks, {
    title: 'H-index', titleSize: 28, titlePadding: {top: 23, bottom: 18.4},
    left: 133.3, right: 136.6, bottom: 27, tickPad: 11, valueSize: 16, endOffset: 20, minOffset: 20
});

barChart('panel-f', citationCountries, citationValues, citationTicks, {
    title: 'Co-citation frequency', titleSize: 36, titlePadding: {top: 12.4, bottom: 20.4},
    left: 197.9, right: 102, bottom: 30, tickPad: 10, valueSize: 14, endOffset: 28, minOffset: 27
});

function buildLegend(id, palette, low) {
    const box = document.getElementById(id);
    let html = '<b style="top:8px">Publications</b>' +
        '<u style="left:1px;top:39px;width:29px;height:27px"></u><u style="left:12px;top:53px;width:14px;height:14px"></u>' +
        '<span style="left:16px;top:36px">683</span><span style="left:16px;top:49px">170.75</span>' +
        '<b style="top:82px">Cooperation intensity</b>' +
        '<span style="left:0;top:106px">' + low + '</span><span style="right:14px;top:106px">383</span>';
    palette.forEach((c, i) => { html += '<em style="left:' + (i * 18) + 'px;background:' + c + '"></em>'; });
    box.innerHTML = html;
}
buildLegend('legend-c', paletteC, 1);
buildLegend('legend-d', paletteD, 5);
</script>
</body>
</html>
